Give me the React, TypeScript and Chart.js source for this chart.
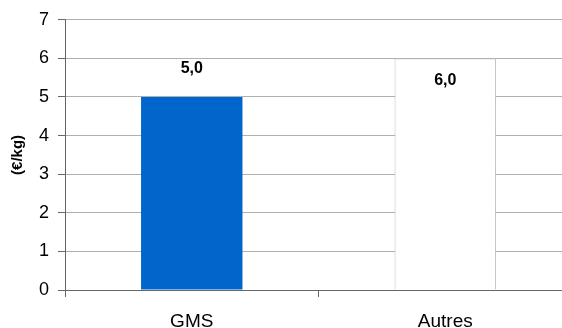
import React, { useEffect, useRef } from "react";
import { Chart, registerables } from "chart.js";

Chart.register(...registerables);

const categories = ["GMS", "Autres"];
const values = [5.0, 6.0];
const valueLabels = ["5,0", "6,0"];
const yTicks = [0, 1, 2, 3, 4, 5, 6, 7];
const yTitle = "(€/kg)";

const FONT = "'Liberation Sans', Arial, sans-serif";

const labelPlugin = {
  id: "valueLabels",
  afterDatasetsDraw(chart: any) {
    const ctx = chart.ctx;
    const meta = chart.getDatasetMeta(0);
    const offsets = [-28, 22];
    ctx.save();
    ctx.font = `bold 16px ${FONT}`;
    ctx.fillStyle = "#000";
    ctx.textAlign = "center";
    ctx.textBaseline = "middle";
    meta.data.forEach((bar: any, i: number) => {
      ctx.fillText(valueLabels[i], bar.x, bar.y + offsets[i]);
    });
    ctx.restore();
  },
};

export default function App() {
  const ref = useRef<HTMLCanvasElement | null>(null);
  useEffect(() => {
    if (!ref.current) return;
    const chart = new Chart(ref.current, {
      type: "bar",
      data: {
        labels: categories,
        datasets: [
          {
            data: values,
            backgroundColor: ["#0066CC", "#FFFFFF"],
            borderColor: ["#0066CC", "#C0C0C0"],
            borderWidth: [0, 1],
            categoryPercentage: 1,
            barPercentage: 0.4,
          },
        ],
      },
      options: {
        responsive: false,
        animation: false,
        devicePixelRatio: 1,
        layout: { padding: { top: 19, left: 0, right: 0, bottom: 0 } },
        plugins: { legend: { display: false }, tooltip: { enabled: false } },
        scales: {
          x: {
            grid: {
              display: true,
              drawOnChartArea: false,
              drawTicks: true,
              tickLength: 7,
              tickColor: "#666666",
              offset: true,
            },
            border: { color: "#666666", width: 1 },
            ticks: {
              color: "#000",
              font: { family: FONT, size: 19 },
              padding: 13,
            },
            afterFit(scale: any) {
              scale.height = 38;
            },
          },
          y: {
            min: 0,
            max: 7,
            afterBuildTicks(scale: any) {
              scale.ticks = yTicks.map((v) => ({ value: v }));
            },
            grid: {
              color: "#B0B0B0",
              lineWidth: 1,
              drawTicks: true,
              tickLength: 7,
              tickColor: "#666666",
            },
            border: { color: "#666666", width: 1 },
            ticks: {
              color: "#000",
              font: { family: FONT, size: 18 },
              padding: 9,
            },
            title: {
              display: true,
              text: yTitle,
              color: "#000",
              font: { family: FONT, size: 15, weight: "bold" },
              padding: { top: 9, bottom: 0 },
            },
            afterFit(scale: any) {
              scale.width = 65;
            },
          },
        },
      },
      plugins: [labelPlugin],
    });
    return () => chart.destroy();
  }, []);
  return (
    <div
      style={{
        position: "absolute",
        left: 0,
        top: 0,
        width: 562,
        height: 328,
        overflow: "hidden",
        background: "#fff",
      }}
    >
      <canvas ref={ref} width={572} height={328} style={{ display: "block" }} />
    </div>
  );
}
